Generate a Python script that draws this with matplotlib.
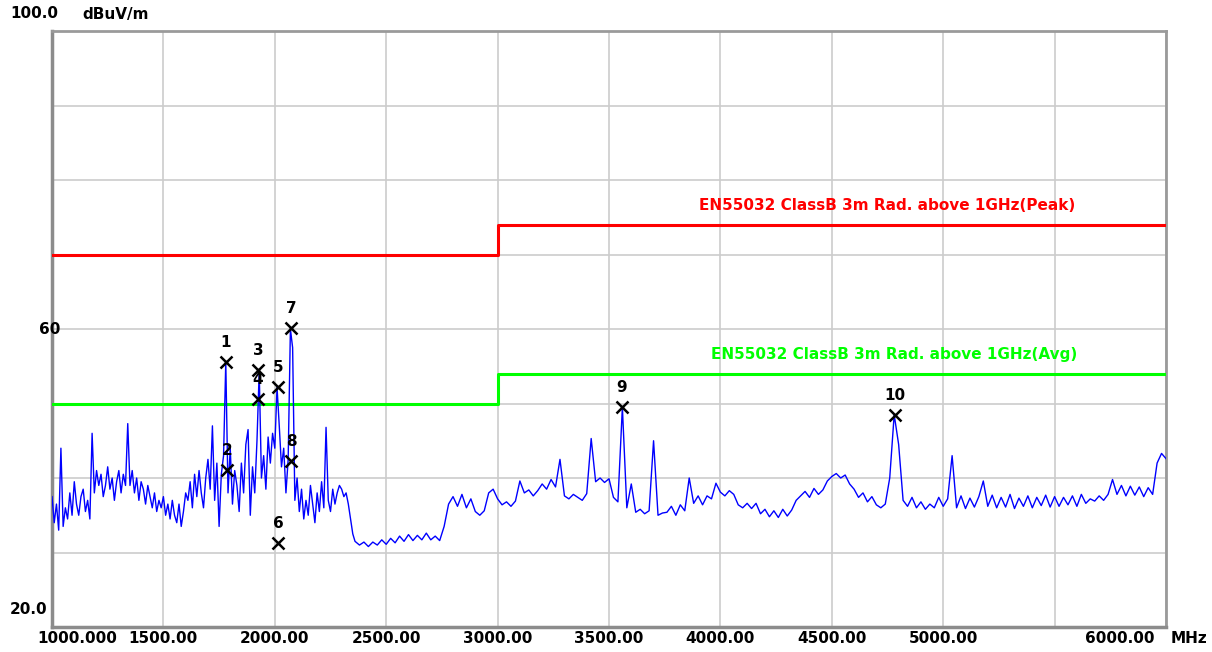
import matplotlib
matplotlib.use("Agg")
import matplotlib.pyplot as plt
import matplotlib.transforms as mtransforms
import numpy as np

# trace, part 1: 1000-2350 MHz, 10 MHz step
f1_start, f1_step = 1000, 10
level_1 = [
    37.5, 34.0, 36.5, 33.0, 44.0, 33.5, 36.0, 34.5, 38.0, 35.0,
    39.5, 36.5, 35.0, 37.5, 38.5, 35.5, 37.0, 34.5, 46.0, 38.0,
    41.0, 39.0, 40.5, 37.5, 39.0, 41.5, 38.5, 40.0, 37.0, 39.5,
    41.0, 38.0, 40.5, 39.0, 47.3, 39.0, 41.0, 38.0, 40.0, 37.0,
    39.5, 38.5, 36.5, 39.0, 37.5, 36.0, 38.0, 35.5, 37.0, 36.0,
    37.5, 35.0, 36.5, 34.5, 37.0, 35.0, 34.0, 36.5, 33.5, 35.5,
    38.0, 37.0, 39.5, 36.0, 40.5, 37.5, 41.0, 38.0, 36.0, 40.0,
    42.5, 38.5, 47.0, 37.0, 42.0, 33.5, 40.5, 43.0, 55.6, 38.0,
    44.0, 36.5, 41.0, 39.0, 35.5, 42.0, 38.0, 44.5, 46.5, 35.0,
    41.5, 38.0, 45.0, 54.3, 40.0, 43.0, 38.5, 45.5, 42.0, 46.0,
    44.0, 52.2, 47.0, 41.5, 44.0, 38.0, 42.5, 60.0, 57.5, 37.0,
    40.0, 35.5, 38.5, 34.5, 37.0, 35.0, 39.0, 36.5, 34.0, 38.0,
    35.5, 39.5, 36.0, 46.8, 37.0, 35.5, 38.5, 36.5, 38.0, 39.0,
    38.5, 37.5, 38.0, 36.5, 34.5, 32.5,
]

# trace, part 2: 2360-6000 MHz, 20 MHz step
f2_start, f2_step = 2360, 20
level_2 = [
    31.5, 31.0, 31.4, 30.8, 31.4, 31.0, 31.7, 31.1, 31.9, 31.3,
    32.2, 31.5, 32.4, 31.6, 32.3, 31.7, 32.6, 31.7, 32.2, 31.6,
    33.5, 36.5, 37.5, 36.2, 37.8, 36.0, 37.2, 35.5, 35.0, 35.6,
    38.0, 38.5, 37.2, 36.4, 36.8, 36.2, 36.9, 39.6, 38.0, 38.4,
    37.6, 38.3, 39.2, 38.5, 39.8, 38.8, 42.5, 37.6, 37.2, 37.8,
    37.4, 37.0, 37.9, 45.3, 39.5, 40.0, 39.4, 39.9, 37.4, 36.8,
    49.5, 36.0, 39.2, 35.4, 35.8, 35.2, 35.6, 45.0, 35.0, 35.3,
    35.4, 36.2, 35.0, 36.4, 35.6, 40.0, 36.6, 37.6, 36.4, 37.6,
    37.2, 39.3, 38.1, 37.6, 38.3, 37.8, 36.4, 36.0, 36.6, 35.9,
    36.6, 35.2, 35.8, 34.8, 35.6, 34.7, 35.8, 34.9, 35.7, 37.0,
    37.6, 38.2, 37.4, 38.6, 37.8, 38.4, 39.6, 40.2, 40.6, 40.0,
    40.4, 39.2, 38.5, 37.4, 38.0, 36.8, 37.5, 36.4, 36.0, 36.5,
    40.0, 48.5, 44.5, 37.0, 36.2, 37.4, 36.0, 36.8, 35.8, 36.5,
    36.0, 37.4, 36.2, 37.2, 43.0, 36.0, 37.6, 35.9, 37.3, 36.1,
    37.5, 39.6, 36.2, 37.7, 36.0, 37.4, 36.1, 37.8, 35.9, 37.3,
    36.2, 37.6, 36.0, 37.4, 36.3, 37.7, 36.1, 37.5, 36.2, 37.4,
    36.4, 37.6, 36.2, 37.8, 36.6, 37.2, 36.9, 37.6, 37.0, 37.8,
    39.8, 37.8, 39.0, 37.6, 38.9, 37.7, 38.8, 37.5, 38.7, 37.8,
    42.0, 43.3, 42.6,
]

# limit lines (EN55032 class B, 3 m, above 1 GHz)
limit_freq = [1000, 3000, 3000, 6000]
peak_limit = [70, 70, 74, 74]
avg_limit = [50, 50, 54, 54]

# marker readings
mk_num = ["1", "2", "3", "4", "5", "6", "7", "8", "9", "10"]
mk_freq = [1781, 1785, 1925, 1925, 2014, 2014, 2073, 2073, 3558, 4783]
mk_level = [55.6, 41.1, 54.5, 50.6, 52.2, 31.3, 60.1, 42.3, 49.5, 48.5]

x_ticks = [1000, 1500, 2000, 2500, 3000, 3500, 4000, 4500, 5000, 6000]
x_labels = ["1000.000", "1500.00", "2000.00", "2500.00", "3000.00",
            "3500.00", "4000.00", "4500.00", "5000.00", "6000.00"]

freq_1 = f1_start + f1_step * np.arange(len(level_1))
freq_2 = f2_start + f2_step * np.arange(len(level_2))
freq = np.concatenate([freq_1, freq_2])
level = np.concatenate([level_1, level_2])

W, H = 1212, 652
fig = plt.figure(figsize=(W / 100, H / 100), dpi=100)
ax = fig.add_axes([52 / W, 1 - 627 / H, (1166 - 52) / W, (627 - 31) / H])

ax.set_xlim(1000, 6000)
ax.set_ylim(20, 100)
ax.set_xticks(np.arange(1000, 6001, 500))
ax.set_yticks(np.arange(20, 101, 10))
ax.grid(True, color="#cccccc", lw=1.2)
ax.tick_params(length=0, labelbottom=False, labelleft=False)
for side in ["left", "bottom"]:
    ax.spines[side].set_color("#8c8c8c")
    ax.spines[side].set_linewidth(2.5)
for side in ["top", "right"]:
    ax.spines[side].set_color("#9a9a9a")
    ax.spines[side].set_linewidth(2.0)

ax.plot(limit_freq, peak_limit, color="#ff0000", lw=2.2, zorder=3)
ax.plot(limit_freq, avg_limit, color="#00ff00", lw=2.2, zorder=3)
ax.plot(freq, level, color="#0000ff", lw=1.0, zorder=4)

lim_font = dict(fontsize=11, fontweight="bold", ha="center", va="center")
ax.text(4750, 76.6, "EN55032 ClassB 3m Rad. above 1GHz(Peak)", color="#ff0000", **lim_font)
ax.text(4780, 56.6, "EN55032 ClassB 3m Rad. above 1GHz(Avg)", color="#00ff00", **lim_font)

ax.plot(mk_freq, mk_level, "x", color="black", ms=9, mew=1.8, zorder=5)
for n, f, v in zip(mk_num, mk_freq, mk_level):
    ax.annotate(n, (f, v), xytext=(0, 14), textcoords="offset points",
                ha="center", va="center", fontsize=11, fontweight="bold", zorder=6)

tr = mtransforms.blended_transform_factory(ax.transData, ax.transAxes)
for t, lab in zip(x_ticks, x_labels):
    dx = 0
    if t == 1000:
        dx = 18
    elif t == 6000:
        dx = -33
    ax.annotate(lab, (t, 0), xycoords=tr, xytext=(dx, -8), textcoords="offset points",
                ha="center", va="center", fontsize=11, fontweight="bold", annotation_clip=False)
ax.annotate("MHz", (6000, 0), xycoords=tr, xytext=(3, -8), textcoords="offset points",
            ha="left", va="center", fontsize=11, fontweight="bold", annotation_clip=False)

fig.text(10 / W, 1 - 14 / H, "100.0", fontsize=11, fontweight="bold", ha="left", va="center")
fig.text(82 / W, 1 - 14 / H, "dBuV/m", fontsize=11, fontweight="bold", ha="left", va="center")
fig.text(50 / W, 1 - 329 / H, "60", fontsize=11, fontweight="bold", ha="center", va="center")
fig.text(10 / W, 1 - 609 / H, "20.0", fontsize=11, fontweight="bold", ha="left", va="center")

fig.savefig("out.png", dpi=100)
